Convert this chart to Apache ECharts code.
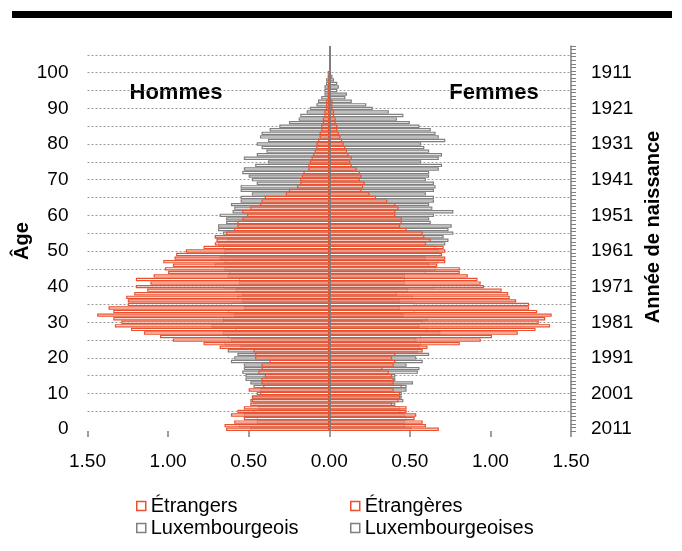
<!DOCTYPE html>
<html><head><meta charset="utf-8">
<script src="https://cdn.jsdelivr.net/npm/echarts@6/dist/echarts.min.js"></script>
<style>html,body{margin:0;padding:0;background:#fff}#c{width:682px;height:551px}</style>
</head><body><div id="c"></div>
<script>
// Ages (categories) 0..107 ; labels shown every 10 up to 100
const ages = [];
for (let a = 0; a <= 107; a++) ages.push(String(a));
const birthYearOfAge0 = 2011;
const years = ages.map(a => String(birthYearOfAge0 - Number(a)));
const labelAges = [0, 10, 20, 30, 40, 50, 60, 70, 80, 90, 100];
const gridAges = [5, 10, 15, 20, 25, 30, 35, 40, 45, 50, 55, 60, 65, 70, 75, 80, 85, 90, 95, 100, 105];

// % of population by age (0..100)
const etrangers = [
 0.64,0.65,0.59,0.53,0.61,0.57,0.53,0.49,0.48,0.48,
 0.43,0.50,0.41,0.42,0.42,0.40,0.44,0.42,0.42,0.37,
 0.46,0.46,0.47,0.68,0.78,0.97,1.05,1.15,1.23,1.33,
 1.29,1.34,1.44,1.34,1.37,1.25,1.25,1.26,1.21,1.13,
 1.20,1.11,1.20,1.09,1.00,1.02,0.97,1.03,0.96,0.95,
 0.89,0.78,0.71,0.70,0.71,0.64,0.59,0.57,0.57,0.54,
 0.51,0.54,0.49,0.43,0.42,0.40,0.27,0.25,0.20,0.18,
 0.18,0.17,0.16,0.13,0.13,0.12,0.11,0.10,0.09,0.08,
 0.08,0.07,0.06,0.06,0.05,0.05,0.04,0.04,0.03,0.03,
 0.02,0.02,0.02,0.01,0.01,0.01,0.01,0.005,0.005,0,0];
const luxembourgeois = [
 0.49,0.56,0.45,0.45,0.53,0.47,0.44,0.47,0.49,0.48,
 0.45,0.43,0.47,0.49,0.52,0.52,0.54,0.53,0.53,0.61,
 0.59,0.57,0.63,0.55,0.65,0.61,0.63,0.66,0.58,0.73,
 0.66,0.66,0.59,0.63,0.53,0.61,0.54,0.57,0.54,0.58,
 0.66,0.56,0.56,0.63,0.62,0.65,0.71,0.65,0.68,0.65,
 0.65,0.66,0.69,0.63,0.71,0.66,0.69,0.69,0.64,0.64,
 0.68,0.60,0.59,0.61,0.55,0.55,0.48,0.55,0.55,0.45,
 0.48,0.50,0.54,0.53,0.46,0.38,0.53,0.45,0.39,0.42,
 0.45,0.38,0.43,0.42,0.37,0.31,0.25,0.19,0.18,0.14,
 0.12,0.08,0.07,0.05,0.03,0.03,0.03,0.02,0.02,0.01,0.01];
const etrangeres = [
 0.68,0.60,0.58,0.53,0.54,0.48,0.48,0.39,0.43,0.44,
 0.44,0.40,0.45,0.40,0.40,0.39,0.37,0.33,0.40,0.41,
 0.39,0.41,0.58,0.61,0.81,0.94,1.01,1.17,1.28,1.37,
 1.30,1.34,1.38,1.29,1.24,1.24,1.16,1.12,1.11,1.07,
 0.96,0.94,0.92,0.86,0.81,0.81,0.67,0.72,0.72,0.70,
 0.72,0.71,0.60,0.63,0.59,0.58,0.48,0.44,0.45,0.45,
 0.41,0.41,0.43,0.41,0.36,0.29,0.25,0.20,0.21,0.22,
 0.19,0.20,0.19,0.17,0.14,0.13,0.14,0.12,0.11,0.10,
 0.09,0.08,0.07,0.06,0.05,0.05,0.04,0.04,0.03,0.03,
 0.02,0.02,0.02,0.01,0.01,0.01,0.01,0.01,0.005,0.005,0];
const luxembourgeoises = [
 0.51,0.47,0.47,0.48,0.47,0.44,0.44,0.41,0.46,0.45,
 0.45,0.48,0.48,0.52,0.41,0.41,0.55,0.56,0.48,0.58,
 0.54,0.62,0.55,0.56,0.57,0.54,0.57,0.69,0.61,0.56,
 0.58,0.61,0.46,0.53,0.44,0.53,0.44,0.52,0.42,0.49,
 0.65,0.47,0.47,0.47,0.60,0.66,0.62,0.68,0.60,0.69,
 0.68,0.66,0.72,0.74,0.71,0.77,0.74,0.76,0.63,0.62,
 0.65,0.77,0.64,0.62,0.65,0.65,0.60,0.65,0.66,0.65,
 0.60,0.62,0.62,0.68,0.70,0.57,0.68,0.70,0.62,0.59,
 0.57,0.72,0.68,0.66,0.63,0.56,0.50,0.42,0.46,0.37,
 0.27,0.23,0.14,0.10,0.11,0.05,0.06,0.05,0.03,0.02,0.01];

const FONT = "'Liberation Sans', Arial, sans-serif";
const RED = '#E9502E';
const GREY = '#7F7F7F';
const showLabel = (i) => labelAges.indexOf(i) >= 0;

const chart = echarts.init(document.getElementById('c'), null, {renderer: 'canvas'});
const barCommon = {type: 'bar', yAxisIndex: 0, barGap: '-100%', barCategoryGap: '6%', silent: true};
const legendCommon = {
  icon: 'rect', itemWidth: 9, itemHeight: 9, padding: 0, selectedMode: false,
  itemStyle: {borderWidth: 1.5},
  textStyle: {fontSize: 20, color: '#000', fontFamily: FONT}
};
const option = {
  animation: false,
  backgroundColor: '#fff',
  grid: {left: 87.5, right: 111, top: 46, bottom: 120},
  xAxis: {
    type: 'value', min: -1.5, max: 1.5, interval: 0.5,
    axisLine: {onZero: false, lineStyle: {color: GREY, width: 1.5}},
    axisTick: {show: true, length: 6, lineStyle: {color: GREY, width: 1.5}},
    splitLine: {show: false},
    axisLabel: {formatter: v => Math.abs(v).toFixed(2), color: '#000', fontSize: 19, fontFamily: FONT, margin: 21}
  },
  yAxis: [
    {
      type: 'category', data: ages, position: 'left',
      axisLine: {show: false}, axisTick: {show: false}, splitLine: {show: false},
      axisLabel: {interval: (i) => showLabel(i), color: '#000', fontSize: 19, fontFamily: FONT, margin: 19}
    },
    {
      type: 'category', data: years, position: 'right',
      axisLine: {show: true, onZero: false, lineStyle: {color: GREY, width: 1.5}},
      axisTick: {show: true, interval: 0, length: 5, lineStyle: {color: GREY, width: 1}},
      splitLine: {show: false},
      axisLabel: {interval: (i) => showLabel(i), color: '#000', fontSize: 19, fontFamily: FONT, margin: 20}
    }
  ],
  legend: [
    Object.assign({data: ['Étrangers'], left: 136, top: 496}, legendCommon),
    Object.assign({data: ['Étrangères'], left: 350, top: 496}, legendCommon),
    Object.assign({data: ['Luxembourgeois'], left: 136, top: 518}, legendCommon),
    Object.assign({data: ['Luxembourgeoises'], left: 350, top: 518}, legendCommon)
  ],
  series: [
    Object.assign({}, barCommon, {
      name: 'Luxembourgeois',
      data: luxembourgeois.map(v => -v),
      itemStyle: {color: '#fff', borderColor: GREY, borderWidth: 1.2},
      markLine: {
        z: 1, silent: true, symbol: 'none', animation: false,
        label: {show: false},
        lineStyle: {color: '#9a9a9a', width: 1, type: [2, 2]},
        data: gridAges.map(a => ({yAxis: a}))
      }
    }),
    Object.assign({}, barCommon, {
      name: 'Étrangers',
      data: etrangers.map(v => -v),
      itemStyle: {color: 'rgba(255,255,255,0.6)', borderColor: RED, borderWidth: 1.2}
    }),
    Object.assign({}, barCommon, {
      name: 'Luxembourgeoises',
      data: luxembourgeoises,
      itemStyle: {color: '#fff', borderColor: GREY, borderWidth: 1.2}
    }),
    Object.assign({}, barCommon, {
      name: 'Étrangères',
      data: etrangeres,
      itemStyle: {color: 'rgba(255,255,255,0.6)', borderColor: RED, borderWidth: 1.2},
      markLine: {
        z: 10, silent: true, symbol: 'none', animation: false,
        label: {show: false},
        lineStyle: {color: GREY, width: 2, type: 'solid'},
        data: [{xAxis: 0}]
      }
    })
  ],
  graphic: [
    {type: 'rect', shape: {x: 12, y: 11, width: 660, height: 7}, style: {fill: '#000'}},
    {type: 'text', x: 176, y: 93, style: {text: 'Hommes', font: 'bold 22px ' + FONT, fill: '#000', align: 'center', verticalAlign: 'middle', textAlign: 'center', textVerticalAlign: 'middle'}},
    {type: 'text', x: 494, y: 93, style: {text: 'Femmes', font: 'bold 22px ' + FONT, fill: '#000', align: 'center', verticalAlign: 'middle', textAlign: 'center', textVerticalAlign: 'middle'}},
    {type: 'text', x: 22, y: 241, rotation: Math.PI / 2, style: {text: 'Âge', font: 'bold 20px ' + FONT, fill: '#000', align: 'center', verticalAlign: 'middle', textAlign: 'center', textVerticalAlign: 'middle'}},
    {type: 'text', x: 653, y: 227, rotation: Math.PI / 2, style: {text: 'Année de naissance', font: 'bold 20px ' + FONT, fill: '#000', align: 'center', verticalAlign: 'middle', textAlign: 'center', textVerticalAlign: 'middle'}}
  ]
};
chart.setOption(option);
</script>
</body></html>
